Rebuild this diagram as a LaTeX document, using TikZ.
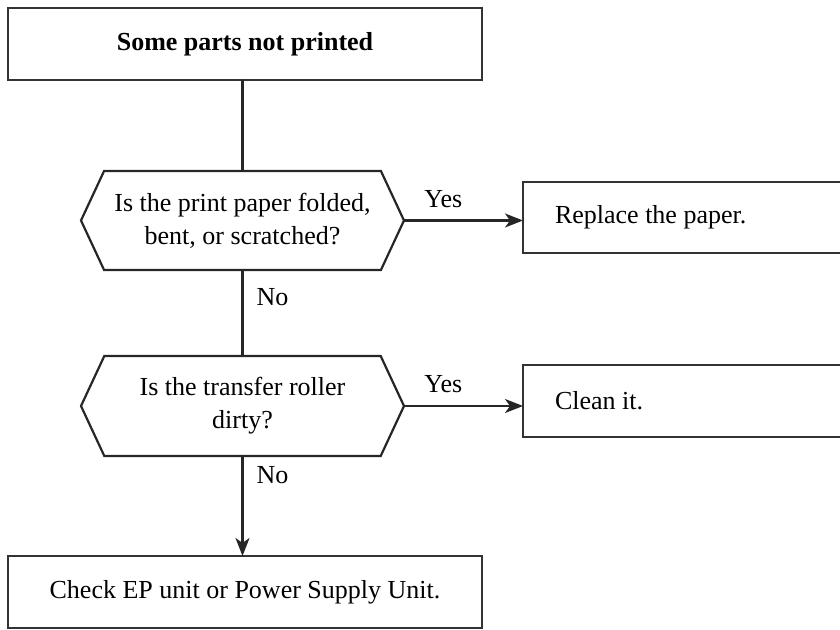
\documentclass[tikz,border=0pt]{standalone}
\usepackage{fontspec}
\setmainfont{Liberation Serif}
\usepackage{tikz}
\usetikzlibrary{positioning,arrows.meta,calc,shapes.symbols}
\tikzset{
  flow/.style={line width=1.1pt,draw=black!85},
  flowar/.style={flow,-{Stealth[length=9pt,width=7pt,inset=2.5pt]}},
  boxnd/.style={draw=black!80,line width=1.1pt,rectangle,inner sep=0pt,outer sep=0pt,
    font=\fontsize{13}{16.5}\selectfont,minimum height=36pt},
  hexnd/.style={draw=black!85,line width=1.1pt,signal,signal to=west and east,
    signal pointer angle=130,inner sep=0pt,outer sep=0pt,align=center,
    font=\fontsize{13}{16.5}\selectfont,minimum width=161.5pt},
  sidebox/.style={boxnd,anchor=west,text width=190pt,align=flush left,inner xsep=16pt},
  lbl/.style={font=\fontsize{13}{16.5}\selectfont,inner sep=2pt},
}
\begin{document}
\begin{tikzpicture}[x=0.5pt,y=-0.5pt]
  \clip (0,0) rectangle (840,630);
  % main column
  \node[boxnd,minimum width=237pt,font=\fontsize{13}{16.5}\selectfont\bfseries] (top) at (245,44) {Some parts not printed};
  \node[hexnd,minimum height=49.5pt] (q1) at (242.5,220.5) {Is the print paper folded,\\bent, or scratched?};
  \node[hexnd,minimum height=50pt] (q2) at (242.5,406) {Is the transfer roller\\dirty?};
  \node[boxnd,minimum width=237pt] (chk) at (245,592) {Check EP unit or Power Supply Unit.};
  % remedies on the right (cut by the page edge)
  \node[sidebox,minimum height=35.5pt] (rep) at (523,217.5) {Replace the paper.};
  \node[sidebox,minimum height=36pt] (cln) at (523,401) {Clean it.};
  % connectors
  \draw[flow] (top.south -| q1.north) -- (q1.north);
  \draw[flow] (q1.south) -- (q2.north) node[lbl,pos=0.31,right=4.5pt] {No};
  \draw[flowar] (q2.south) -- (q2.south |- chk.north) node[lbl,pos=0.19,right=4.5pt] {No};
  \draw[flowar] (q1.east) -- (q1.east -| rep.west) node[lbl,pos=0.33,above=4pt] {Yes};
  \draw[flowar] (q2.east) -- (q2.east -| cln.west) node[lbl,pos=0.33,above=4pt] {Yes};
\end{tikzpicture}
\end{document}
